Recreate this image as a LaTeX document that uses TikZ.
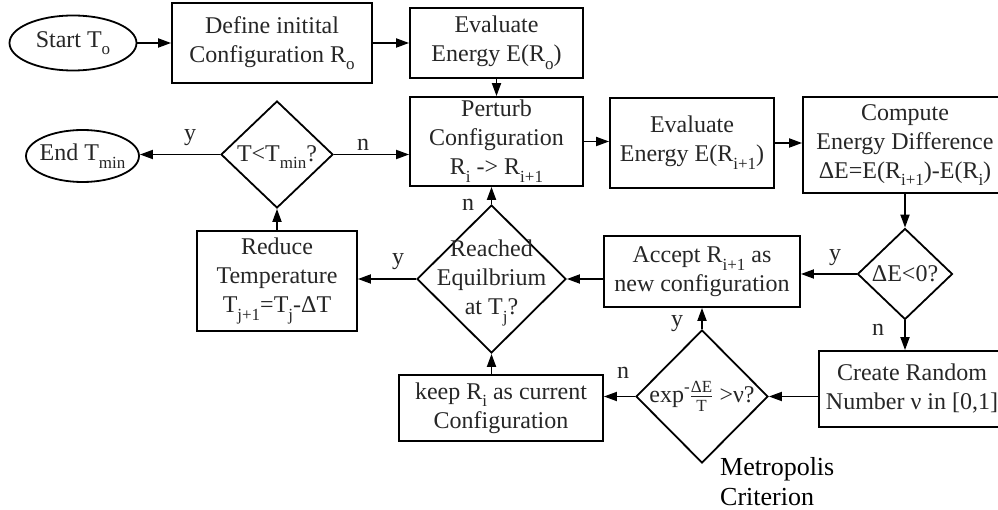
\documentclass[tikz,border=0pt]{standalone}
\usepackage{fontspec}
\setmainfont{Liberation Serif}
\usetikzlibrary{shapes.geometric,arrows.meta}
\newcommand\sbx[1]{\raisebox{-0.32em}{\fontsize{17}{17}\selectfont #1}}
\newcommand\smallfr[1]{\hbox{\fontsize{17}{17}\selectfont #1}}
\begin{document}
\begin{tikzpicture}[x=1pt,y=-1pt,
  every node/.style={font=\fontsize{24}{29}\selectfont, text=black!85},
  box/.style={draw, line width=1.8pt, rectangle, inner sep=1pt, align=center},
  dia/.style={draw, line width=1.8pt, diamond, inner sep=0pt, aspect=1},
  ell/.style={draw, line width=1.8pt, ellipse, inner sep=0pt},
  txt/.style={align=center, inner sep=0pt},
  arr/.style={line width=1.8pt, -{Triangle[length=13pt,width=9pt]}},
  lbl/.style={inner sep=0pt}]
\useasboundingbox (0,0) rectangle (998,510);
\clip (0,0) rectangle (998,510);

% shapes
\node[ell, minimum width=127pt, minimum height=55pt] (start) at (73,43) {};
\node[txt] (starttxt) at (start) {Start T\sbx{o}};
\node[box, minimum width=200pt, minimum height=80pt] (define) at (272,43) {Define initital\\Configuration R\sbx{o}};
\node[box, minimum width=173pt, minimum height=70pt] (evalo) at (496.5,43) {Evaluate\\Energy E(R\sbx{o})};
\node[box, minimum width=173pt, minimum height=89pt] (perturb) at (496.5,141.5) {Perturb\\Configuration\\R\sbx{i} -> R\sbx{i+1}};
\node[box, minimum width=164pt, minimum height=90pt] (evalnext) at (692,143) {Evaluate\\Energy E(R\sbx{i+1})};
\node[box, minimum width=204pt, minimum height=96pt] (compute) at (905,145) {Compute\\Energy Difference\\ΔE=E(R\sbx{i+1})-E(R\sbx{i})};
\node[dia, minimum width=95pt, minimum height=91pt] (dE) at (905,274) {};
\node[txt] (dEtxt) at (dE) {ΔE<0?};
\node[box, minimum width=186pt, minimum height=76pt] (create) at (912,389) {Create Random\\Number ν in [0,1]};
\node[box, minimum width=196pt, minimum height=71pt] (accept) at (702,271.5) {Accept R\sbx{i+1} as\\new configuration};
\node[dia, minimum width=132pt, minimum height=133pt] (metro) at (702,396.5) {};
\node[txt] (metrotxt) at (metro) {exp\raisebox{0.42em}{\fontsize{17}{17}\selectfont -}$\frac{\smallfr{ΔE}}{\smallfr{T}}$ >ν?};
\node[box, minimum width=204pt, minimum height=66pt] (keep) at (501,408) {keep R\sbx{i} as current\\Configuration};
\node[dia, minimum width=149pt, minimum height=148pt] (reached) at (491.5,279) {};
\node[txt] (reachedtxt) at (491.5,283) {Reached\\Equilbrium\\at T\sbx{j}?};
\node[box, minimum width=160pt, minimum height=100pt] (reduce) at (277,281) {Reduce\\Temperature\\T\sbx{j+1}=T\sbx{j}-ΔT};
\node[dia, minimum width=112pt, minimum height=107pt] (tmin) at (277,154.5) {};
\node[txt] (tmintxt) at (277,157) {T<T\sbx{min}?};
\node[ell, minimum width=113pt, minimum height=52pt] (end) at (82.5,156) {};
\node[txt] (endtxt) at (end) {End T\sbx{min}};
\node[lbl, align=left, anchor=west, text=black, font=\fontsize{26}{30}\selectfont] (crit) at (720,482) {Metropolis\\Criterion};

% connectors
\draw[arr] (start) -- (define);
\draw[arr] (define) -- (evalo);
\draw[arr] (evalo) -- (perturb);
\draw[arr] (perturb.east) -- (perturb.east -| evalnext.west);
\draw[arr] (evalnext.east) -- (evalnext.east -| compute.west);
\draw[arr] (compute) -- (dE);
\draw[arr] (dE.west) -- (dE.west -| accept.east);
\draw[arr] (dE.south) -- (dE.south |- create.north);
\draw[arr] (create.west |- metro.east) -- (metro.east);
\draw[arr] (metro.north) -- (accept.south);
\draw[arr] (metro.west) -- (metro.west -| keep.east);
\draw[arr] (accept.west |- reached.east) -- (reached.east);
\draw[arr] (keep.north -| reached.south) -- (reached.south);
\draw[arr] (reached.north) -- (reached.north |- perturb.south);
\draw[arr] (reached.west) -- (reached.west -| reduce.east);
\draw[arr] (reduce.north) -- (tmin.south);
\draw[arr] (tmin.west) -- (tmin.west -| end.east);
\draw[arr] (tmin.east) -- (tmin.east -| perturb.west);

% labels
\node[lbl] (ly1) at (190,138) {y};
\node[lbl] (ln1) at (363,145) {n};
\node[lbl] (ln2) at (468,205) {n};
\node[lbl] (ly2) at (398,262) {y};
\node[lbl] (ly3) at (835,258) {y};
\node[lbl] (ln3) at (878,330) {n};
\node[lbl] (ly4) at (677,324) {y};
\node[lbl] (ln4) at (623,373) {n};
\end{tikzpicture}
\end{document}
